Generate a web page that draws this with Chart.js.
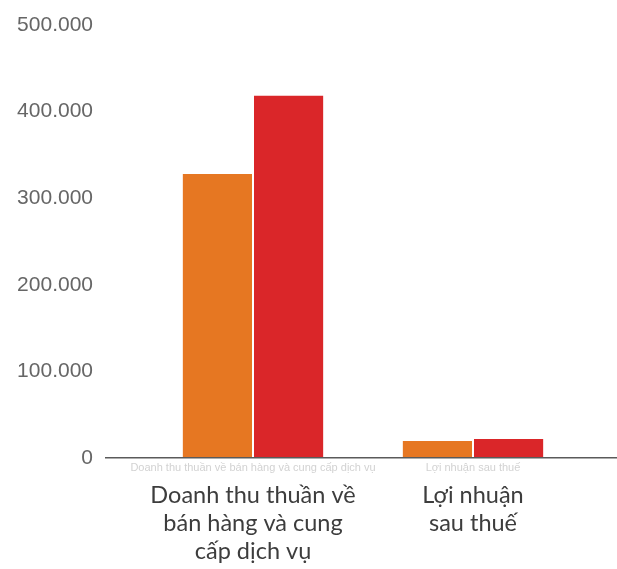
<!DOCTYPE html>
<html>
<head>
<meta charset="utf-8">
<script src="https://cdn.jsdelivr.net/npm/chart.js@4/dist/chart.umd.min.js"></script>
<style>
  html,body{margin:0;padding:0;background:#fff;}
  #wrap{width:617px;height:569px;position:relative;}
</style>
</head>
<body>
<div id="wrap"><canvas id="c" width="617" height="569"></canvas></div>
<script>
// Données (milliers)
const CATS_SMALL = ['Doanh thu thuần về bán hàng và cung cấp dịch vụ', 'Lợi nhuận sau thuế'];
const CATS_BIG = [['Doanh thu thuần về', 'bán hàng và cung', 'cấp dịch vụ'], ['Lợi nhuận', 'sau thuế']];
const SERIES_A = [328000, 19600];
const SERIES_B = [418500, 21900];
const Y_TICKS = [0, 100000, 200000, 300000, 400000, 500000];

const ORANGE = '#E67722', RED = '#DA2629';

// ligne de base prolongée (style Google Charts)
const baseLine = {
  id:'baseLine',
  afterDatasetsDraw(chart){
    const {ctx, chartArea, scales} = chart;
    const y = Math.round(scales.y.getPixelForValue(0)) - 0.25;
    ctx.save();
    ctx.strokeStyle = '#5a5a5a'; ctx.lineWidth = 1.5;
    ctx.beginPath(); ctx.moveTo(chartArea.left - 38, y); ctx.lineTo(chart.width, y); ctx.stroke();
    ctx.restore();
  }
};

new Chart(document.getElementById('c'), {
  type:'bar',
  data:{
    labels: CATS_SMALL,
    datasets:[
      { label:'A', data:SERIES_A, backgroundColor:ORANGE, borderColor:'#fff', borderWidth:{left:0,right:1,top:0,bottom:0}, borderSkipped:false },
      { label:'B', data:SERIES_B, backgroundColor:RED, borderColor:'#fff', borderWidth:{left:1,right:0,top:0,bottom:0}, borderSkipped:false },
    ]
  },
  options:{
    responsive:false, animation:false,
    layout:{ padding:{ top:25, right:34, left:0, bottom:0 } },
    datasets:{ bar:{ categoryPercentage:0.64, barPercentage:1 } },
    plugins:{ legend:{display:false}, tooltip:{enabled:false} },
    scales:{
      x:{
        grid:{display:false, drawTicks:false}, border:{display:false},
        ticks:{ font:{family:'Liberation Sans', size:11}, color:'#d2d2d2', padding:3, maxRotation:0, autoSkip:false },
        afterFit:s=>{ s.height = 18; s.paddingLeft = 0; s.paddingRight = 0; },
      },
      x2:{
        type:'category', labels:CATS_BIG, position:'bottom',
        grid:{display:false, drawTicks:false}, border:{display:false},
        ticks:{ font:{family:'Lato', size:23.5}, color:'#3d3d3d', padding:5, maxRotation:0, autoSkip:false, lineHeight:1.34 },
        afterFit:s=>{ s.height = 93; s.paddingLeft = 0; s.paddingRight = 0; },
      },
      y:{
        min:0, max:500000,
        afterBuildTicks:s=>{ s.ticks = Y_TICKS.map(v=>({value:v})); },
        grid:{display:false, drawTicks:false}, border:{display:false},
        ticks:{ font:{family:'Liberation Sans', size:21}, color:'#666', padding:50,
          callback:v=>v.toLocaleString('de-DE') },
        afterFit:s=>{ s.width = 143; s.paddingTop = 0; s.paddingBottom = 0; },
      }
    }
  },
  plugins:[baseLine]
});
</script>
</body>
</html>
